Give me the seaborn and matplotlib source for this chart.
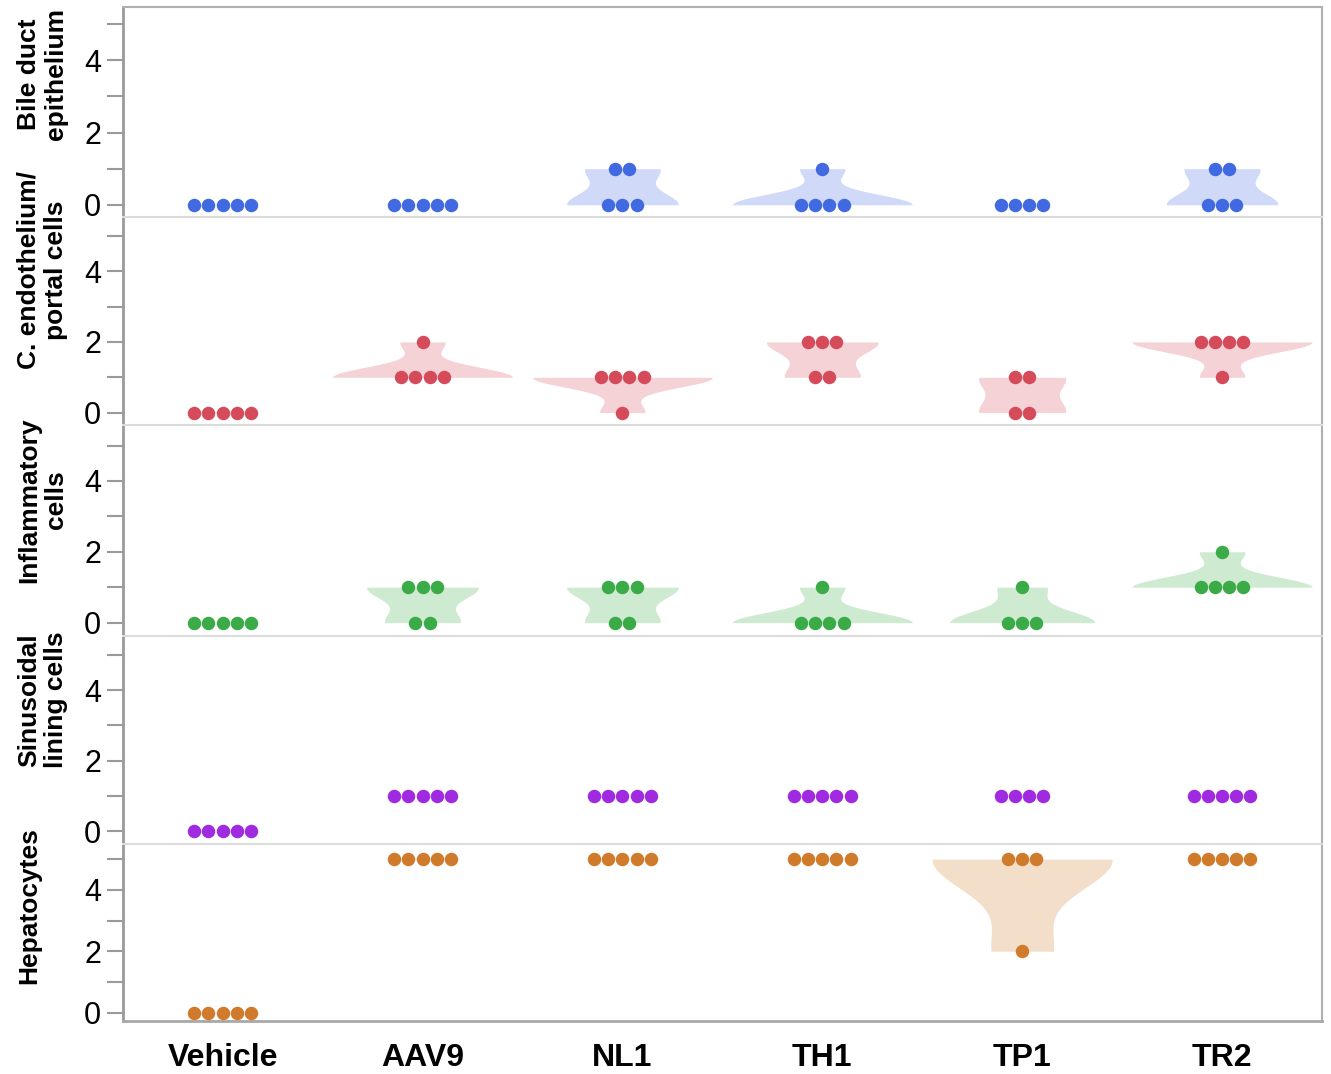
import numpy as np
import pandas as pd
import matplotlib
matplotlib.use("Agg")
import matplotlib.pyplot as plt
import seaborn as sns
from matplotlib.ticker import FixedLocator
from matplotlib import font_manager

# ---------------- data ----------------
groups = ["Vehicle", "AAV9", "NL1", "TH1", "TP1", "TR2"]
panel_labels = ["Bile duct\nepithelium", "C. endothelium/\nportal cells",
                "Inflammatory\ncells", "Sinusoidal\nlining cells", "Hepatocytes"]

bile_duct = {"Vehicle": [0, 0, 0, 0, 0], "AAV9": [0, 0, 0, 0, 0], "NL1": [1, 1, 0, 0, 0],
             "TH1": [1, 0, 0, 0, 0], "TP1": [0, 0, 0, 0], "TR2": [1, 1, 0, 0, 0]}
endothelium = {"Vehicle": [0, 0, 0, 0, 0], "AAV9": [2, 1, 1, 1, 1], "NL1": [1, 1, 1, 1, 0],
               "TH1": [2, 2, 2, 1, 1], "TP1": [1, 1, 0, 0], "TR2": [2, 2, 2, 2, 1]}
inflammatory = {"Vehicle": [0, 0, 0, 0, 0], "AAV9": [1, 1, 1, 0, 0], "NL1": [1, 1, 1, 0, 0],
                "TH1": [1, 0, 0, 0, 0], "TP1": [1, 0, 0, 0], "TR2": [2, 1, 1, 1, 1]}
sinusoidal = {"Vehicle": [0, 0, 0, 0, 0], "AAV9": [1, 1, 1, 1, 1], "NL1": [1, 1, 1, 1, 1],
              "TH1": [1, 1, 1, 1, 1], "TP1": [1, 1, 1, 1], "TR2": [1, 1, 1, 1, 1]}
hepatocytes = {"Vehicle": [0, 0, 0, 0, 0], "AAV9": [5, 5, 5, 5, 5], "NL1": [5, 5, 5, 5, 5],
               "TH1": [5, 5, 5, 5, 5], "TP1": [5, 5, 5, 2], "TR2": [5, 5, 5, 5, 5]}
panel_data = [bile_duct, endothelium, inflammatory, sinusoidal, hepatocytes]

colors = ["#4169e1", "#d64b5a", "#3aab47", "#a02ae0", "#d07b2b"]

# ---------------- layout ----------------
W, H = 1331, 1074
sns.set_theme(style="white")
plt.rcParams['font.family'] = ['Liberation Sans', 'DejaVu Sans']

installed = {f.name for f in font_manager.fontManager.ttflist}
if "Liberation Sans Narrow" in installed:
    xfont, xsize = "Liberation Sans Narrow", 26
else:
    xfont, xsize = "Liberation Sans", 23

fig = plt.figure(figsize=(W / 100, H / 100), dpi=100)
heights = [209.4, 208.3, 210.7, 208.1, 177.2]
gs = fig.add_gridspec(5, 1, height_ratios=heights, left=122.7 / W, right=1322 / W,
                      top=1 - 7.3 / H, bottom=1 - 1021 / H, hspace=0)
axes = [fig.add_subplot(gs[i]) for i in range(5)]
ylims = [(-0.33, 5.47), (-0.35, 5.54), (-0.37, 5.58), (-0.35, 5.54), (-0.27, 5.5)]
label_y = [74, 270, 500, 700, 906]


def lighten(c, a=0.25):
    rgb = np.array(matplotlib.colors.to_rgb(c))
    return tuple(1 - a * (1 - rgb))


swarm_colls = []
for i, (ax, data, col) in enumerate(zip(axes, panel_data, colors)):
    ax.set_xlim(-0.5, 5.5)
    ax.set_ylim(*ylims[i])
    df = pd.DataFrame([(g, v) for g in groups for v in data[g]], columns=["group", "score"])
    nun = df.groupby("group")["score"].transform("nunique")
    vdf = df.copy()
    vdf.loc[nun < 2, "score"] = np.nan
    if vdf["score"].notna().any():
        sns.violinplot(data=vdf, x="group", y="score", order=groups, color=lighten(col),
                       saturation=1, inner=None, cut=0, linewidth=0, density_norm="area",
                       width=0.9, bw_adjust=0.9, ax=ax)
    n_before = len(ax.collections)
    sns.swarmplot(data=df, x="group", y="score", order=groups, color=col, size=9.7,
                  linewidth=0, ax=ax, zorder=3)
    swarm_colls.extend(ax.collections[n_before:])

    ax.set_xlim(-0.5, 5.5)
    ax.set_ylim(*ylims[i])
    ax.set_xlabel("")
    ax.set_ylabel("")
    ax.set_yticks([0, 2, 4])
    ax.yaxis.set_minor_locator(FixedLocator([1, 3, 5]))
    ax.tick_params(axis="y", which="both", left=True, length=11.5, width=1.5,
                   color="#9a9a9a", labelsize=22, pad=4, labelcolor="black")
    if i < 4:
        ax.tick_params(axis="x", bottom=False, labelbottom=False)
    else:
        ax.tick_params(axis="x", bottom=False, labelbottom=True, pad=10)
        for t in ax.get_xticklabels():
            t.set_fontsize(xsize)
            t.set_fontweight("bold")
            t.set_family([xfont, "Liberation Sans", "DejaVu Sans"])
            t.set_color("black")

    for s in ax.spines.values():
        s.set_linewidth(1.5)
    ax.spines["left"].set_color("#9a9a9a")
    ax.spines["left"].set_linewidth(2)
    ax.spines["right"].set_color("#b0b0b0")
    ax.spines["top"].set_color("#b0b0b0" if i == 0 else "#dcdcdc")
    ax.spines["bottom"].set_visible(i == 4)
    ax.spines["bottom"].set_color("#a8a8a8")
    ax.spines["bottom"].set_linewidth(2)

    fig.text(17 / W, 1 - label_y[i] / H, panel_labels[i], rotation=90, ha="left",
             va="center", fontsize=19, fontweight="bold", linespacing=1.15,
             multialignment="center", color="black")

# run the swarm layout once, then center every row of points on its category
fig.canvas.draw()
for coll in swarm_colls:
    off = np.asarray(coll.get_offsets(), dtype=float).copy()
    if "draw" in coll.__dict__:
        del coll.draw
    if len(off) == 0:
        continue
    center = np.round(off[:, 0].mean())
    for yv in np.unique(off[:, 1]):
        m = off[:, 1] == yv
        off[m, 0] += center - off[m, 0].mean()
    coll.set_offsets(off)

fig.savefig("out.png", dpi=100)
